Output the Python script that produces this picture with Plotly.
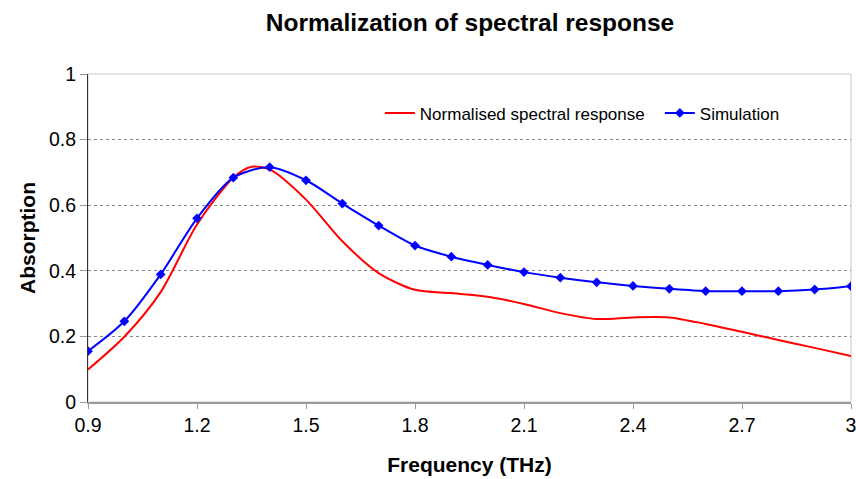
import plotly.graph_objects as go

freq_sim = [0.9, 1.0, 1.1, 1.2, 1.3, 1.4, 1.5, 1.6, 1.7, 1.8, 1.9, 2.0,
            2.1, 2.2, 2.3, 2.4, 2.5, 2.6, 2.7, 2.8, 2.9, 3.0]
sim_values = [0.155, 0.246, 0.389, 0.560, 0.684, 0.716, 0.676, 0.605, 0.538,
              0.477, 0.443, 0.418, 0.396, 0.379, 0.365, 0.354, 0.345, 0.338,
              0.338, 0.338, 0.343, 0.353]

freq_norm = [0.9, 1.0, 1.1, 1.2, 1.3, 1.35, 1.4, 1.5, 1.6, 1.7, 1.8, 1.9, 2.0,
             2.1, 2.2, 2.3, 2.4, 2.5, 2.6, 2.7, 2.8, 2.9, 3.0]
norm_values = [0.099, 0.199, 0.335, 0.541, 0.684, 0.717, 0.709, 0.617, 0.490,
               0.393, 0.342, 0.332, 0.321, 0.299, 0.271, 0.253, 0.258, 0.258,
               0.238, 0.214, 0.189, 0.165, 0.140]

x_ticks = [0.9, 1.2, 1.5, 1.8, 2.1, 2.4, 2.7, 3.0]
x_tick_labels = ["0.9", "1.2", "1.5", "1.8", "2.1", "2.4", "2.7", "3"]
y_ticks = [0, 0.2, 0.4, 0.6, 0.8, 1.0]
y_tick_labels = ["0", "0.2", "0.4", "0.6", "0.8", "1"]

FONT = "Liberation Sans, Arial, sans-serif"

W, H = 856, 479
L, R, T, B = 88, 5, 74, 77

fig = go.Figure()
fig.add_trace(go.Scatter(
    x=freq_norm, y=norm_values, mode="lines", name="Normalised spectral response",
    line=dict(color="#ff0000", width=2, shape="spline", smoothing=0.8),
))
fig.add_trace(go.Scatter(
    x=freq_sim, y=sim_values, mode="lines+markers", name="Simulation",
    line=dict(color="#0000ff", width=2, shape="spline", smoothing=0.8),
    marker=dict(symbol="diamond", size=7.5, color="#0000ff"),
))

fig.add_shape(type="rect", xref="paper", yref="paper", x0=0, y0=0, x1=1, y1=1,
              line=dict(color="#c8c8c8", width=1), layer="below")

fig.update_layout(
    width=W, height=H,
    margin=dict(l=L, r=R, t=T, b=B, autoexpand=False),
    paper_bgcolor="white", plot_bgcolor="white",
    font=dict(family=FONT, size=17, color="#000000"),
    title=dict(text="<b>Normalization of spectral response</b>",
               x=(L + 764 / 2) / W, xanchor="center", y=1 - 22 / H, yanchor="middle",
               font=dict(size=24.5, family=FONT, color="#000000")),
    showlegend=True,
    legend=dict(orientation="h", x=0.3825, xanchor="left", y=0.88, yanchor="middle",
                bgcolor="rgba(0,0,0,0)", font=dict(size=17, family=FONT),
                itemwidth=30, tracegroupgap=0,
                entrywidth=235, entrywidthmode="pixels"),
    xaxis=dict(
        range=[0.9, 3.0], tickvals=x_ticks, ticktext=x_tick_labels,
        showgrid=False, zeroline=False, automargin=False, ticklabeloverflow="allow",
        showline=True, linecolor="#999999", linewidth=2,
        ticks="outside", ticklen=5, tickcolor="#999999",
        tickfont=dict(size=19.5, family=FONT, color="#000000"),
        title=dict(text="<b>Frequency (THz)</b>", font=dict(size=21, family=FONT), standoff=22),
    ),
    yaxis=dict(
        range=[0, 1], tickvals=y_ticks, ticktext=y_tick_labels,
        showgrid=True, gridcolor="#888888", griddash="dot", automargin=False,
        gridwidth=1, zeroline=False, showline=True, linecolor="#333333", linewidth=1,
        ticks="outside", ticklen=7, tickcolor="#999999",
        tickfont=dict(size=19.5, family=FONT, color="#000000"),
        title=dict(text="<b>Absorption</b>", font=dict(size=21, family=FONT), standoff=7),
    ),
)

# remove the page's default 8px body margin so the figure fills the window exactly
fig.write_html("out.html",
               config={"displayModeBar": False},
               post_script="document.body.style.margin='0';document.body.style.overflow='hidden';")
